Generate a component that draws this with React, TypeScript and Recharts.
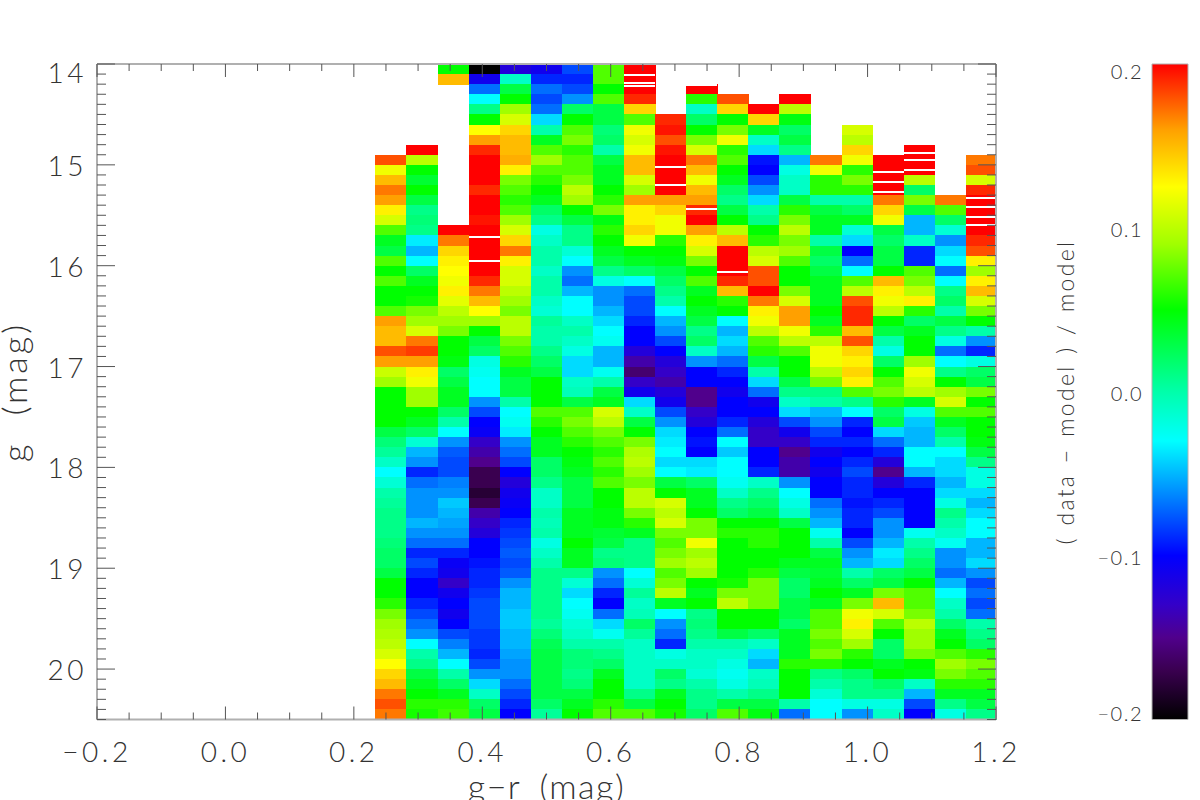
import React from "react";
import {
  Bar,
  BarChart,
  Label,
  Scatter,
  ScatterChart,
  XAxis,
  YAxis,
} from "recharts";

// residuals in percent, one list per g-r bin, one entry per 0.1 mag row from g=14.0 down to g=20.5
const _ = null;
const bin00 = [_,_,_,_,_,_,_,_,_,18,12,15,17,16,13,11,7,4,3,7,5,7,5,5,7,16,15,15,18,16,10.5,9,5,5,5,5,3,1.5,.5,-1,-3,-1.5,0,.5,1,1,1,1.5,2,2,3,5,5,6,8,9,9.5,10,11,12.5,14,15,17,18,17];
const bin01 = [_,_,_,_,_,_,_,_,20,10,5,3.5,5,3,1,1.5,1,-3.5,-5,-3,2,4,5,5.5,8,9,11,17,18.5,16,13,12,9,9,5,4,2,-1.5,-5,-6,-9,-7,-6,-6,-6,-5,-6,-7,-9,-8,-9,-10,-10,-9,-8,-7,-6,-3,0,1,3,4,5,6,5.5];
const bin02 = [5,15,_,_,_,_,_,_,_,_,_,_,_,_,_,_,20,17,14,13,12.5,12,13,11.5,10,9,8,5,5,4.5,2,3,4,4,2,0,-3,-6,-7.5,-8,-8,-6.5,-6,-4.5,-5,-5.5,-6,-7,-9,-10.5,-11,-13,-11,-10,-11,-10,-8,-6.5,-5,-3,0,2,4,6,6.5];
const bin03 = [-20,-11,-7,-3,1,5,12.5,16,19,20,20,20,19,20,20,19.5,20,20,20,20,20,19,17,15,12.5,9,5,3,2,-2,-2.5,-3,-3,-6,-8,-10,-10.5,-13,-14,-15,-17,-17,-18,-17,-14,-13,-12,-10,-10,-9.5,-9,-9,-8.5,-8,-8,-8,-8.5,-8.5,-9,-8,-6,-4,-1,2,3];
const bin04 = [-12,-1,3,5,9,11,14,15,15,15.5,13,8,7,6,7,9,11,14,17,13,11,11,10,9,8,10,10,8,7,6,4,3,3,0,-3,-2.5,-3.5,-6,-7,-8,-10,-12,-11,-10.5,-10,-9,-8.5,-8,-7.5,-8,-7.5,-6,-5,-5,-4.5,-4.5,-5,-5,-5.5,-6,-6,-7,-8,-9,-10];
const bin05 = [-11,-9,-7,-8,-7,-4,0,4,7,9,7,6,5,4,2,1,-2,-1,0,0,-1,0,0,-1,-1.5,.5,0,0,1,2,3,5,5,5,7,6,5,4,4,2,2,1,-1,-1,0,-.5,0,-2,-1,0,1,1,1,1,1,.5,1.5,2.5,3,3,3,3,3,2,.5];
const bin06 = [-8,-9,-8,-6,2,5,7,8,6,7,7,8,10,9,5,3,1,1,-1.5,-3,-6,-7,-5,-3,-3,-1,0,-1,-2,-4,-4,-1,-.5,3,7,8,7,6,5,4.5,4,3,3,3,4,4,4,5,4,4,1,-1.5,-4,-3,-2.5,-1.5,-1,0,1.5,1.5,1,1.5,3,4,5];
const bin07 = [7,7,5,7,3,3,1.5,2,0,3,4,4,5,6,8,4.5,6,5,4,3,1,-2,-6,-6,-5,-4,-3,-2.5,-5,-5,-2.5,0,3,4,11,10,8,7,6,7,6,7,5,5,4.5,4.5,3.5,3,1,1.5,-6,-7,-9,-10,-7,-4,-2.5,0,1,2,4,5,5,6,7];
const bin08 = [20,20,20,19,14,7,12,11,12,15,15,11,9,16,13,13,14,12,5,4,2,-3,-7,-8,-8,-9,-10,-10,-12,-14,-16,-13,-11,-4,-1,3,5,8,9.5,10,9,8,10,10,8,6,4,1,1,1,-3,-1.5,.5,-1,-.5,2,.5,-1,-1,-1,-1,-1,1,3,7];
const bin09 = [_,_,_,_,_,19,19.5,18,19.5,20,20,20,20,16,14,12,12,6,5,4.5,3,2,1,0,-3,-5,-6,-8,-10,-12,-13,-14,-12,-11,-8,-6,-4,-3.5,-3,-4,-3,3,5,11,10,11,8,7,8,9,7,8,10,4,-3,-6,-7,-9,-2,-1,2,1,4,5,5.5];
const bin10 = [_,_,20,6,-1,2,5,8,11,17,15,12,15,16,19,20,16,13,11,8,5,7,4,5,4,3,1,2,-1,-6,-10,-10,-15,-15,-13,-12,-10,-9.5,-10,-4,-3.5,2,4,4,5,8,8,12,9,10,9,5,4,5,1,1.5,1,0,-1,-1,-1.5,0,1,1,2];
const bin11 = [_,_,_,18,14,5,8,12,6,7,5,4,2,1,3,5,10,15,20,20,20,19,15,6,5,-3,-5,-4,-5,-7,-9,-10,-11,-10,-10,-9,-7,-3,-4.5,-3,-3,-2.5,-1,1,2,5,6,5,5,5,5,5.5,8,10,5,5,3,0,-1,-2,-2.5,-2,0,3,7];
const bin12 = [_,_,_,_,20,14,4,-1,-4,-9.5,-10,-8,-6,-4,0,1,5,6,10,11,18,18,20,17,13,12,10,7,6,3,0,-4,-7,-11,-10,-12,-13,-13,-10,-10,-9,-1,1,2,3,5,6,6,5,5,6,8,8,8,5,5,2,-1,-4,-5,-1,-.5,1,3,4.5];
const bin13 = [_,_,_,20,10,4.5,2,3,1,-5,-2,-1,-1,3,6,8,10,8,9,7,5,5,8,11,16,16,12,10,7,5,5,3,1,-1,-4,-8,-11,-13,-15,-14,-14,-6,-3,-2,-1,3,5,5,5,4,3,2,2,3,3,2,4,4,4,6,5,5,5,0,-7];
const bin14 = [_,_,_,_,_,_,_,_,_,17,12,6,6,0,3,4,4,0,3,2,3,4,4,4,5,4,6,10,12,12,10,8,1,0,-5,-6,-8,-9,-11,-10,-11,-10,-10,-7,-6,-5,-2.5,0,3,4,3.5,4,5,4,7,7,8,7,8,6,1,0,-1.5,-3,-3];
const bin15 = [_,_,_,_,_,_,11,10,14,12,6,8,6,0,2,4,-1.5,-4,-10,-7,-3,7,10,18,19,19,15,18,14,13,14,13,7,1,-3,-9,-10,-9,-10,-9,-8,-9,-9,-9.5,-9,-9,-10,-8,-6,-5,0,2,4,8,12,13,11,9,6,5,2,1,1,-2,-6];
const bin16 = [_,_,_,_,_,_,_,_,_,20,20,20,20,17,14,12,3,2,3,3,5,15,13,12,10,5,3,0,-2,2,5,7,8,6,2,3,-4,-7,-9,-12,-15,-12,-10,-9,-8,-6,-6,-5,-3.5,-4,2,3,8,15,11,7,5,2,2,4,5,2,1,-2,-1];
const bin17 = [_,_,_,_,_,_,_,_,20,20,20,10,2,8,3,-5,-5,-1,-9,-9,7,8,10,13,6,2,4,5,5,9,12,11,10,4,-2,-4.5,-5,-5,-3,-3,-5,-9,-10,-10,-10,-10,-2.5,0,1,2,3,5,7,7,8,10,9,9,8,5,4.5,-1,-5,-8,-10];
const bin18 = [_,_,_,_,_,_,_,_,_,_,_,_,_,17,7,2,-1.5,-6,-4,-3,-7,-3,1,2,0,3,1,-2,-7,-3,1,5,9,11,7,4,2,0,-3,-4,-4,-5,-4,-2,1,0,-1,-2.5,-6,-6,-7,-5,-3,-1,0,2,4,5,7,9,8,6,4,1,-2];
const bin19 = [_,_,_,_,_,_,_,_,_,17,18,11,19,20,20,20,20,19,18,13,9,13,15,11,8,5,0,-6,-9,-2,2,3,8,5,7,5,5,4.5,3,1,-2,-2,-4,-5,-4,-3,-3,-5,-5,-4,-6,-8,-7,-8,-7,0,1,2,6,8,7,6,4,3,1];
const binColumns = [bin00, bin01, bin02, bin03, bin04, bin05, bin06, bin07, bin08, bin09, bin10, bin11, bin12, bin13, bin14, bin15, bin16, bin17, bin18, bin19];

// thin empty g rows inside the saturated bins: bin number and g
const gapBins = [3, 3, 11, 9, 9, 8, 8, 8, 16, 16, 16, 17, 17, 17, 19, 19, 19, 19, 10, 10];
const gapMags = [15.72, 15.95, 16.06, 15.02, 15.2, 14.11, 14.19, 14.22, 15.07, 15.17, 15.27, 14.88, 14.95, 15.05, 15.33, 15.42, 15.52, 15.6, 14.21, 15.44];

const colorScale: [number, string][] = [
  [-20, "#000000"],
  [-17, "#3a0050"],
  [-15, "#50008c"],
  [-13, "#3400c8"],
  [-10, "#0000ff"],
  [-6.5, "#0080ff"],
  [-3, "#00ffff"],
  [0, "#00ffaa"],
  [5, "#00ff00"],
  [9, "#a0ff00"],
  [12.5, "#ffff00"],
  [16, "#ffa000"],
  [20, "#ff0000"],
];

const xMajorTicks = [-0.2, 0, 0.2, 0.4, 0.6, 0.8, 1, 1.2];
const xAllTicks = [-0.2,-0.15,-0.1,-0.05,0,0.05,0.1,0.15,0.2,0.25,0.3,0.35,0.4,0.45,0.5,0.55,0.6,0.65,0.7,0.75,0.8,0.85,0.9,0.95,1,1.05,1.1,1.15,1.2];
const yMajorTicks = [14, 15, 16, 17, 18, 19, 20];
const yAllTicks = Array.from({ length: 66 }, (_v, i) => 14 + i / 10);
const barTicks = [-0.2, -0.1, 0, 0.1, 0.2];
const frameCorners = [
  { x: -0.2, g: 14 },
  { x: 1.2, g: 20.5 },
];

const FONT = "Lato, 'Open Sans', sans-serif";
const TEXT = "#333";
const TICK = "#555";
const FRAME = "#b0b0b0";
const W = 1200;
const H = 800;
const LEFT = 97;
const RIGHT = 996;
const TOP = 64;
const BOTTOM = 719.5;
const BIN_START = 0.2335;
const BIN_WIDTH = 0.0484;
const ROW_HEIGHT = 0.1;
const pxPerX = (RIGHT - LEFT) / 1.4;
const pxPerY = (BOTTOM - TOP) / 6.5;

function hex(c: string) {
  return [1, 3, 5].map((i) => parseInt(c.slice(i, i + 2), 16));
}

function colorFor(v: number) {
  for (let i = 1; i < colorScale.length; i++) {
    if (v <= colorScale[i][0]) {
      const [v0, c0] = colorScale[i - 1];
      const [v1, c1] = colorScale[i];
      const t = (v - v0) / (v1 - v0);
      const a = hex(c0);
      const b = hex(c1);
      return `rgb(${a.map((x, k) => Math.round(x + (b[k] - x) * t)).join(",")})`;
    }
  }
  return "#ff0000";
}

const cells = binColumns.flatMap((col, c) =>
  col.flatMap((v, r) =>
    v === null
      ? []
      : [{ x: BIN_START + BIN_WIDTH * (c + 0.5), g: 14 + ROW_HEIGHT * (r + 0.5), v }],
  ),
);
const gaps = gapBins.map((c, i) => ({ x: BIN_START + BIN_WIDTH * (c + 0.5), g: gapMags[i] }));

function CellShape(props: any) {
  const { cx, cy, payload } = props;
  const w = BIN_WIDTH * pxPerX;
  const h = ROW_HEIGHT * pxPerY;
  return (
    <rect
      x={cx - w / 2}
      y={cy - h / 2}
      width={w + 0.5}
      height={h + 0.5}
      fill={colorFor(payload.v)}
      shapeRendering="crispEdges"
    />
  );
}

function GapShape(props: any) {
  const { cx, cy } = props;
  const w = BIN_WIDTH * pxPerX;
  return <rect x={cx - w / 2} y={cy - 1} width={w} height={2} fill="#fff" shapeRendering="crispEdges" />;
}

const NoShape = () => <g />;

function fmt(v: number, digits: number) {
  const s = Math.abs(v).toFixed(digits);
  return v < -1e-9 ? `\u2212${s}` : s;
}

const isMajor = (list: number[], v: number) => list.some((m) => Math.abs(m - v) < 1e-6);

function BottomTick({ x, y, payload }: any) {
  const major = isMajor(xMajorTicks, payload.value);
  return (
    <g>
      <path d={`M${x} ${y}V${y - (major ? 13 : 7)}`} stroke={TICK} fill="none" />
      {major && (
        <text x={x} y={y + 42.5} textAnchor="middle" fontSize={28} fontWeight={300} letterSpacing={3.5} fontFamily={FONT} fill={TEXT}>
          {fmt(payload.value, 1)}
        </text>
      )}
    </g>
  );
}

function TopTick({ x, y, payload }: any) {
  const major = isMajor(xMajorTicks, payload.value);
  return <path d={`M${x} ${y}V${y + (major ? 13 : 7)}`} stroke={TICK} fill="none" />;
}

function LeftTick({ x, y, payload }: any) {
  const major = isMajor(yMajorTicks, payload.value);
  const shift = Math.abs(payload.value - 14) < 1e-6 ? 19 : 11;
  return (
    <g>
      <path d={`M${x} ${y}H${x + (major ? 18 : 9)}`} stroke={TICK} fill="none" />
      {major && (
        <text x={x - 10} y={y + shift} textAnchor="end" fontSize={28} fontWeight={300} letterSpacing={3.5} fontFamily={FONT} fill={TEXT}>
          {Math.round(payload.value)}
        </text>
      )}
    </g>
  );
}

function RightTick({ x, y, payload }: any) {
  const major = isMajor(yMajorTicks, payload.value);
  return <path d={`M${x} ${y}H${x - (major ? 18 : 9)}`} stroke={TICK} fill="none" />;
}

function BarTick({ x, y, payload }: any) {
  const v = payload.value;
  const shift = v === 0.2 ? 15 : v === -0.2 ? 1 : 9;
  return (
    <text x={x - 9} y={y + shift} textAnchor="end" fontSize={20} fontWeight={300} letterSpacing={1.5} fontFamily={FONT} fill={TEXT}>
      {fmt(v, 1)}
    </text>
  );
}

function SideTitle({ text, x, y, size, spacing, words }: any) {
  return (
    <text
      transform={`translate(${x},${y}) rotate(-90)`}
      textAnchor="middle"
      fontSize={size}
      fontWeight={300}
      letterSpacing={spacing}
      wordSpacing={words}
      fontFamily={FONT}
      fill={TEXT}
    >
      {text}
    </text>
  );
}

const scaleData = [{ name: "residual", range: [-0.2, 0.2] }];
const layer = { position: "absolute", left: 0, top: 0 } as const;

export default function App() {
  return (
    <div style={{ position: "absolute", left: 0, top: 0, width: W, height: H, background: "#fff", overflow: "hidden" }}>
      <div style={layer}>
        <ScatterChart
          width={W}
          height={H}
          margin={{ left: LEFT, right: W - RIGHT, top: TOP, bottom: H - BOTTOM }}
        >
          <XAxis type="number" dataKey="x" domain={[-0.2, 1.2]} hide />
          <YAxis type="number" dataKey="g" reversed domain={[14, 20.5]} hide />
          <Scatter data={cells} shape={CellShape} isAnimationActive={false} />
          <Scatter data={gaps} shape={GapShape} isAnimationActive={false} />
        </ScatterChart>
      </div>
      {/* the frame sits in its own chart so the ticks stay on top of the cells */}
      <div style={layer}>
        <ScatterChart
          width={W}
          height={H}
          margin={{ left: LEFT - 1, right: W - RIGHT - 1, top: TOP - 1, bottom: H - BOTTOM - 1 }}
        >
          <XAxis
            xAxisId="bottom"
            type="number"
            dataKey="x"
            domain={[-0.2, 1.2]}
            ticks={xAllTicks}
            interval={0}
            height={1}
            tickSize={0}
            tickMargin={0}
            tickLine={false}
            tick={BottomTick}
            axisLine={{ stroke: FRAME, strokeWidth: 2 }}
          >
            <Label
              value={"g\u2212r (mag)"}
              position="bottom"
              offset={54}
              fontSize={34}
              fontWeight={300}
              letterSpacing={1.5}
              wordSpacing={8}
              fontFamily={FONT}
              fill={TEXT}
            />
          </XAxis>
          <XAxis
            xAxisId="top"
            orientation="top"
            type="number"
            dataKey="x"
            domain={[-0.2, 1.2]}
            ticks={xAllTicks}
            interval={0}
            height={1}
            tickSize={0}
            tickMargin={0}
            tickLine={false}
            tick={TopTick}
            axisLine={{ stroke: FRAME, strokeWidth: 2 }}
          />
          <YAxis
            yAxisId="left"
            type="number"
            dataKey="g"
            reversed
            domain={[14, 20.5]}
            ticks={yAllTicks}
            interval={0}
            width={1}
            tickSize={0}
            tickMargin={0}
            tickLine={false}
            tick={LeftTick}
            axisLine={{ stroke: FRAME, strokeWidth: 2 }}
          >
            <Label
              content={() => <SideTitle text="g (mag)" x={27} y={392} size={34} spacing={3} words={14} />}
            />
          </YAxis>
          <YAxis
            yAxisId="right"
            orientation="right"
            type="number"
            dataKey="g"
            reversed
            domain={[14, 20.5]}
            ticks={yAllTicks}
            interval={0}
            width={1}
            tickSize={0}
            tickMargin={0}
            tickLine={false}
            tick={RightTick}
            axisLine={{ stroke: FRAME, strokeWidth: 2 }}
          />
          <Scatter data={frameCorners} xAxisId="bottom" yAxisId="left" shape={NoShape} isAnimationActive={false} />
          <Scatter data={frameCorners} xAxisId="top" yAxisId="right" shape={NoShape} isAnimationActive={false} />
        </ScatterChart>
      </div>
      <div style={{ position: "absolute", left: 1040, top: 0 }}>
        <BarChart
          width={160}
          height={H}
          data={scaleData}
          barCategoryGap={0}
          margin={{ left: 111, right: 12, top: TOP, bottom: H - BOTTOM }}
        >
          <defs>
            <linearGradient id="residualScale" x1="0" y1="0" x2="0" y2="1">
              {[...colorScale].reverse().map(([v, c]) => (
                <stop key={v} offset={`${(20 - v) / 40 * 100}%`} stopColor={c} />
              ))}
            </linearGradient>
          </defs>
          <XAxis dataKey="name" hide />
          <YAxis
            type="number"
            domain={[-0.2, 0.2]}
            ticks={barTicks}
            interval={0}
            width={1}
            tickSize={0}
            tickMargin={0}
            tickLine={false}
            tick={BarTick}
            axisLine={false}
          >
            <Label
              content={() => (
                <SideTitle text={"( data \u2212 model ) / model"} x={34} y={392} size={23} spacing={2.3} words={2} />
              )}
            />
          </YAxis>
          <Bar
            dataKey="range"
            fill="url(#residualScale)"
            stroke={FRAME}
            strokeWidth={1}
            isAnimationActive={false}
          />
        </BarChart>
      </div>
    </div>
  );
}
